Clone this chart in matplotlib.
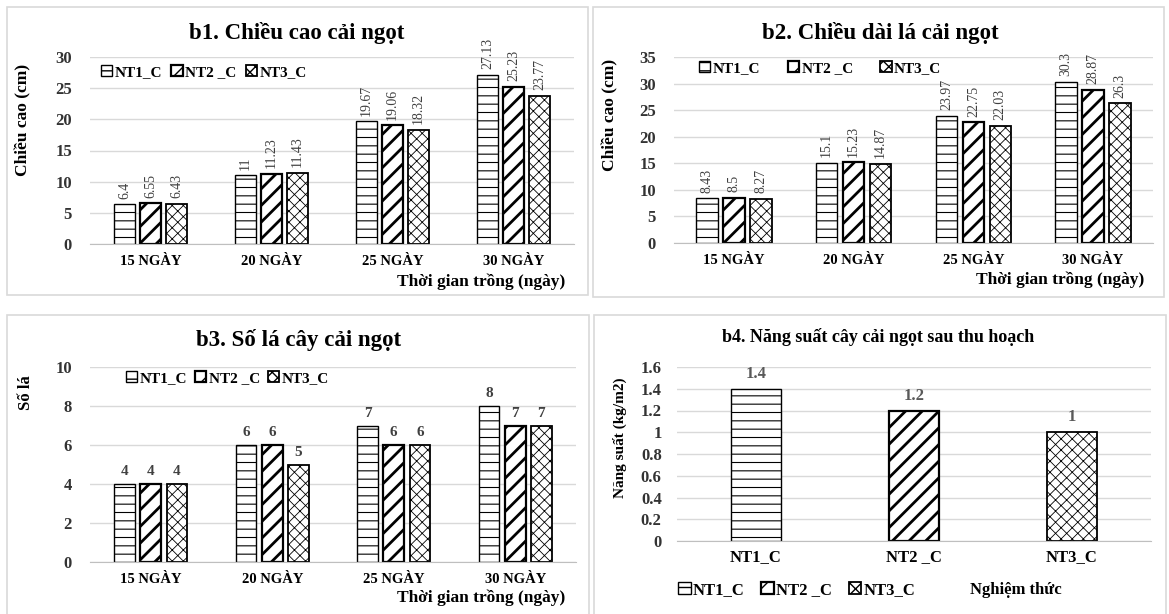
import numpy as np
import matplotlib
matplotlib.use('Agg')
from matplotlib import pyplot as plt
from matplotlib.patches import Rectangle

plt.rcParams['font.family'] = ['Liberation Serif', 'DejaVu Serif']

W, H = 1169, 614

# data
days = ['15 NGÀY', '20 NGÀY', '25 NGÀY', '30 NGÀY']
series = ['NT1_C', 'NT2 _C', 'NT3_C']

b1_nt1 = [6.4, 11, 19.67, 27.13]
b1_nt2 = [6.55, 11.23, 19.06, 25.23]
b1_nt3 = [6.43, 11.43, 18.32, 23.77]

b2_nt1 = [8.43, 15.1, 23.97, 30.3]
b2_nt2 = [8.5, 15.23, 22.75, 28.87]
b2_nt3 = [8.27, 14.87, 22.03, 26.3]

b3_nt1 = [4, 6, 7, 8]
b3_nt2 = [4, 6, 6, 7]
b3_nt3 = [4, 5, 6, 7]

b4_vals = [1.4, 1.2, 1.0]

hatches = ['--', '//', 'xxx']
hatch_lw = [0.8, 2.0, 0.6]
edge_lw = [1.0, 1.6, 1.3]
grid_col = '#d9d9d9'


def fx(x):
    return x / W


def fy(y):
    return 1 - y / H


def axes_px(fig, left, top, right, bottom):
    return fig.add_axes([fx(left), fy(bottom), (right - left) / W, (bottom - top) / H])


def style_axes(ax, ylim, yticks, tick_size, pad_y, pad_x, cat_size):
    ax.set_ylim(*ylim)
    ax.set_yticks(yticks)
    ax.set_yticklabels([f'{t:g}' for t in yticks], fontsize=tick_size, fontweight='bold', color='#333333')
    ax.yaxis.grid(True, color=grid_col, lw=1)
    ax.set_axisbelow(True)
    for s in ['top', 'right', 'left']:
        ax.spines[s].set_visible(False)
    ax.spines['bottom'].set_color('#bfbfbf')
    ax.tick_params(axis='both', length=0)
    ax.tick_params(axis='y', pad=pad_y)
    ax.tick_params(axis='x', pad=pad_x, labelsize=cat_size)
    for lab in ax.get_xticklabels():
        lab.set_fontweight('bold')


def draw_bar(ax, x, vals, width, i):
    with plt.rc_context({'hatch.linewidth': hatch_lw[i]}):
        bars = ax.bar(x, vals, width, facecolor='white', edgecolor='black',
                      hatch=hatches[i], linewidth=edge_lw[i], label=series[i])
    for b in bars:
        if hasattr(b, 'set_hatch_linewidth'):
            b.set_hatch_linewidth(hatch_lw[i])
    return bars


def grouped(ax, data, width, offset, rotated, label_size, label_gap):
    x = np.arange(len(days))
    handles = []
    for i, vals in enumerate(data):
        xs = x + (i - 1) * offset
        bars = draw_bar(ax, xs, vals, width, i)
        handles.append(bars)
        for xi, v in zip(xs, vals):
            if rotated:
                ax.annotate(f'{v:g}', (xi, v), xytext=(0, label_gap), textcoords='offset points',
                            ha='center', va='bottom', rotation=90, fontsize=label_size,
                            color='#404040')
            else:
                ax.annotate(f'{v:g}', (xi, v), xytext=(0, label_gap), textcoords='offset points',
                            ha='center', va='bottom', fontsize=label_size, fontweight='bold',
                            color='#404040')
    ax.set_xlim(-0.5, len(days) - 0.5)
    ax.set_xticks(x)
    ax.set_xticklabels(days)
    return handles


def legend_at(fig, handles, labels, x, y, size, colsp):
    fig.legend(handles, labels, loc='center left', bbox_to_anchor=(fx(x), fy(y)),
               bbox_transform=fig.transFigure, ncol=len(labels), frameon=False,
               handlelength=0.75, handleheight=0.75, handletextpad=0.15,
               columnspacing=colsp, borderpad=0, borderaxespad=0,
               prop={'size': size, 'weight': 'bold'})


fig = plt.figure(figsize=(W / 100, H / 100), dpi=100)

# panel frames
for (l, t, r, b) in [(7, 7, 588, 295), (593, 7, 1164, 297), (7, 315, 589, 640), (594, 315, 1166, 640)]:
    fig.add_artist(Rectangle((fx(l), fy(b)), (r - l) / W, (b - t) / H, transform=fig.transFigure,
                             fill=False, edgecolor=grid_col, lw=1.2))

# b1
ax1 = axes_px(fig, 90, 57, 574, 244)
h1 = grouped(ax1, [b1_nt1, b1_nt2, b1_nt3], 0.17, 0.215, True, 10, 4)
style_axes(ax1, (0, 30), range(0, 31, 5), 12, 13, 8, 10.5)
fig.text(fx(297), fy(33), 'b1. Chiều cao cải ngọt', ha='center', va='center', fontsize=16.5, fontweight='bold')
fig.text(fx(23), fy(120), 'Chiều cao (cm)', ha='center', va='center', rotation=90, fontsize=12.5, fontweight='bold')
fig.text(fx(565), fy(282), 'Thời gian trồng (ngày)', ha='right', va='center', fontsize=12.5, fontweight='bold')
legend_at(fig, h1, series, 101, 72, 11, 0.6)

# b2
ax2 = axes_px(fig, 674, 57, 1153, 243)
h2 = grouped(ax2, [b2_nt1, b2_nt2, b2_nt3], 0.18, 0.225, True, 10, 4)
style_axes(ax2, (0, 35), range(0, 36, 5), 12, 13, 8, 10.5)
fig.text(fx(880), fy(33), 'b2. Chiều dài lá cải ngọt', ha='center', va='center', fontsize=16.5, fontweight='bold')
fig.text(fx(610), fy(115), 'Chiều cao (cm)', ha='center', va='center', rotation=90, fontsize=12.5, fontweight='bold')
fig.text(fx(1144), fy(280), 'Thời gian trồng (ngày)', ha='right', va='center', fontsize=12.5, fontweight='bold')
legend_at(fig, h2, series, 699, 68, 11, 1.8)

# b3
ax3 = axes_px(fig, 90, 367, 576, 562)
h3 = grouped(ax3, [b3_nt1, b3_nt2, b3_nt3], 0.17, 0.215, False, 11, 4)
style_axes(ax3, (0, 10), range(0, 11, 2), 12, 13, 8, 10.5)
fig.text(fx(299), fy(340), 'b3. Số lá cây cải ngọt', ha='center', va='center', fontsize=16.5, fontweight='bold')
fig.text(fx(26), fy(393), 'Số lá', ha='center', va='center', rotation=90, fontsize=12, fontweight='bold')
fig.text(fx(565), fy(598), 'Thời gian trồng (ngày)', ha='right', va='center', fontsize=12.5, fontweight='bold')
legend_at(fig, h3, series, 126, 378, 11, 0.5)

# b4
ax4 = axes_px(fig, 677, 367, 1151, 541)
x4 = np.arange(len(series))
h4 = []
for i, v in enumerate(b4_vals):
    bars = draw_bar(ax4, [x4[i]], [v], 0.316, i)
    h4.append(bars)
    ax4.annotate(f'{v:g}', (x4[i], v), xytext=(0, 5), textcoords='offset points',
                 ha='center', va='bottom', fontsize=12, fontweight='bold', color='#595959')
ax4.set_xlim(-0.5, 2.5)
ax4.set_xticks(x4)
ax4.set_xticklabels(series)
style_axes(ax4, (0, 1.6), np.round(np.arange(0, 1.61, 0.2), 1), 12, 11, 6, 12)
fig.text(fx(878), fy(337), 'b4. Năng suất cây cải ngọt sau thu hoạch', ha='center', va='center', fontsize=13, fontweight='bold')
fig.text(fx(620), fy(438), 'Năng suất (kg/m2)', ha='center', va='center', rotation=90, fontsize=11, fontweight='bold')
legend_at(fig, h4, series, 678, 590, 12, 1.0)
fig.text(fx(970), fy(590), 'Nghiệm thức', ha='left', va='center', fontsize=12, fontweight='bold')

fig.savefig('out.png', dpi=100)
